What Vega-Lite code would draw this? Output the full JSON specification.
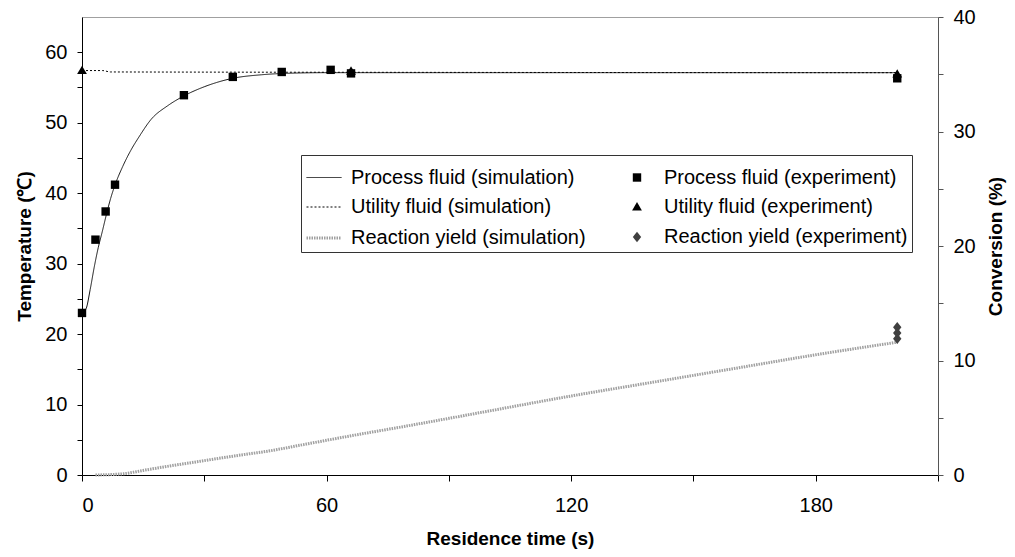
{
  "$schema": "https://vega.github.io/schema/vega-lite/v6.json",
  "width": 856,
  "height": 458,
  "autosize": "none",
  "padding": {"left": 82, "top": 17, "right": 77, "bottom": 82},
  "background": "white",
  "config": {
    "font": "Liberation Sans",
    "view": {"stroke": "#a0a0a0"},
    "axis": {
      "labelFont": "Liberation Sans",
      "labelFontSize": 20,
      "labelColor": "#000",
      "titleFont": "Liberation Sans",
      "titleFontSize": 19,
      "titleFontWeight": "bold",
      "titleColor": "#000",
      "tickColor": "#000",
      "domainColor": "#000",
      "grid": false,
      "tickSize": 5,
      "labelPadding": 10
    },
    "legend": {
      "title": null,
      "orient": "none",
      "legendX": 219,
      "legendY": 138,
      "columns": 2,
      "gridAlign": "all",
      "columnPadding": 23,
      "rowPadding": 1,
      "padding": 4,
      "strokeColor": "#333",
      "fillColor": "white",
      "labelFont": "Liberation Sans",
      "labelFontSize": 20,
      "labelColor": "#000",
      "labelLimit": 400,
      "labelOffset": 8,
      "symbolSize": 1225,
      "symbolOpacity": 1
    }
  },
  "datasets": {
    "sim_left": [
      {"t": 0, "temp": 23.0, "series": "Process fluid (simulation)"},
      {"t": 1, "temp": 23.6, "series": "Process fluid (simulation)"},
      {"t": 2, "temp": 26.3, "series": "Process fluid (simulation)"},
      {"t": 3, "temp": 29.5, "series": "Process fluid (simulation)"},
      {"t": 4, "temp": 32.3, "series": "Process fluid (simulation)"},
      {"t": 5, "temp": 34.6, "series": "Process fluid (simulation)"},
      {"t": 6, "temp": 37.0, "series": "Process fluid (simulation)"},
      {"t": 7, "temp": 39.2, "series": "Process fluid (simulation)"},
      {"t": 8, "temp": 41.0, "series": "Process fluid (simulation)"},
      {"t": 10, "temp": 43.8, "series": "Process fluid (simulation)"},
      {"t": 12, "temp": 46.1, "series": "Process fluid (simulation)"},
      {"t": 14, "temp": 48.0, "series": "Process fluid (simulation)"},
      {"t": 17, "temp": 50.5, "series": "Process fluid (simulation)"},
      {"t": 21, "temp": 52.4, "series": "Process fluid (simulation)"},
      {"t": 25, "temp": 53.8, "series": "Process fluid (simulation)"},
      {"t": 30, "temp": 55.1, "series": "Process fluid (simulation)"},
      {"t": 33, "temp": 55.7, "series": "Process fluid (simulation)"},
      {"t": 37, "temp": 56.3, "series": "Process fluid (simulation)"},
      {"t": 44, "temp": 56.8, "series": "Process fluid (simulation)"},
      {"t": 50, "temp": 57.0, "series": "Process fluid (simulation)"},
      {"t": 60, "temp": 57.1, "series": "Process fluid (simulation)"},
      {"t": 200, "temp": 57.1, "series": "Process fluid (simulation)"},
      {"t": 0, "temp": 57.4, "series": "Utility fluid (simulation)"},
      {"t": 5, "temp": 57.4, "series": "Utility fluid (simulation)"},
      {"t": 7, "temp": 57.2, "series": "Utility fluid (simulation)"},
      {"t": 200, "temp": 57.1, "series": "Utility fluid (simulation)"}
    ],
    "exp_left": [
      {"t": 0, "temp": 23.0, "series": "Process fluid (experiment)"},
      {"t": 3.3, "temp": 33.4, "series": "Process fluid (experiment)"},
      {"t": 5.8, "temp": 37.4, "series": "Process fluid (experiment)"},
      {"t": 8.1, "temp": 41.2, "series": "Process fluid (experiment)"},
      {"t": 25, "temp": 53.9, "series": "Process fluid (experiment)"},
      {"t": 37, "temp": 56.5, "series": "Process fluid (experiment)"},
      {"t": 49, "temp": 57.2, "series": "Process fluid (experiment)"},
      {"t": 61, "temp": 57.5, "series": "Process fluid (experiment)"},
      {"t": 66, "temp": 57.0, "series": "Process fluid (experiment)"},
      {"t": 200, "temp": 56.3, "series": "Process fluid (experiment)"},
      {"t": 0, "temp": 57.4, "series": "Utility fluid (experiment)"},
      {"t": 66, "temp": 57.3, "series": "Utility fluid (experiment)"},
      {"t": 200, "temp": 56.9, "series": "Utility fluid (experiment)"}
    ],
    "ry_sim": [
      {"t": 3.3, "conv": 0.0, "series": "Reaction yield (simulation)"},
      {"t": 10, "conv": 0.1, "series": "Reaction yield (simulation)"},
      {"t": 15, "conv": 0.4, "series": "Reaction yield (simulation)"},
      {"t": 20, "conv": 0.7, "series": "Reaction yield (simulation)"},
      {"t": 29, "conv": 1.2, "series": "Reaction yield (simulation)"},
      {"t": 40, "conv": 1.8, "series": "Reaction yield (simulation)"},
      {"t": 45, "conv": 2.05, "series": "Reaction yield (simulation)"},
      {"t": 55, "conv": 2.7, "series": "Reaction yield (simulation)"},
      {"t": 65.6, "conv": 3.4, "series": "Reaction yield (simulation)"},
      {"t": 80, "conv": 4.3, "series": "Reaction yield (simulation)"},
      {"t": 100, "conv": 5.6, "series": "Reaction yield (simulation)"},
      {"t": 120, "conv": 6.9, "series": "Reaction yield (simulation)"},
      {"t": 140, "conv": 8.1, "series": "Reaction yield (simulation)"},
      {"t": 160, "conv": 9.3, "series": "Reaction yield (simulation)"},
      {"t": 180, "conv": 10.5, "series": "Reaction yield (simulation)"},
      {"t": 200, "conv": 11.6, "series": "Reaction yield (simulation)"}
    ],
    "ry_exp": [
      {"t": 200, "conv": 11.9, "series": "Reaction yield (experiment)"},
      {"t": 200, "conv": 12.4, "series": "Reaction yield (experiment)"},
      {"t": 200, "conv": 12.9, "series": "Reaction yield (experiment)"}
    ]
  },
  "encoding": {
    "x": {
      "field": "t", "type": "quantitative",
      "scale": {"domain": [0, 210], "nice": false, "zero": false},
      "axis": {
        "title": "Residence time (s)",
        "values": [0, 30, 60, 90, 120, 150, 180, 210],
        "labelExpr": "(datum.value % 60 == 0 && datum.value < 200) ? datum.label : ''",
        "tickSize": 6,
        "labelPadding": 14,
        "titlePadding": 14
      }
    }
  },
  "layer": [
    {
      "encoding": {
        "y": {
          "field": "temp", "type": "quantitative",
          "scale": {"domain": [0, 65], "nice": false},
          "axis": {
            "orient": "left",
            "title": "Temperature (℃)",
            "values": [0, 5, 10, 15, 20, 25, 30, 35, 40, 45, 50, 55, 60],
            "labelExpr": "datum.value % 10 == 0 ? datum.label : ''",
            "titlePadding": 10
          }
        }
      },
      "layer": [
        {
          "data": {"name": "sim_left"},
          "mark": {"type": "line", "interpolate": "monotone", "opacity": 1},
          "encoding": {
            "stroke": {
              "field": "series", "type": "nominal",
              "scale": {
                "type": "ordinal",
                "domain": ["Process fluid (simulation)", "Utility fluid (simulation)", "Reaction yield (simulation)", "Process fluid (experiment)", "Utility fluid (experiment)", "Reaction yield (experiment)"],
                "range": ["#111", "#000", "#a0a0a0", "transparent", "transparent", "transparent"]
              }
            },
            "strokeDash": {
              "field": "series", "type": "nominal",
              "scale": {
                "type": "ordinal",
                "domain": ["Process fluid (simulation)", "Utility fluid (simulation)", "Reaction yield (simulation)", "Process fluid (experiment)", "Utility fluid (experiment)", "Reaction yield (experiment)"],
                "range": [[1, 0], [2, 2], [1.5, 1], [1, 0], [1, 0], [1, 0]]
              }
            },
            "strokeWidth": {
              "field": "series", "type": "nominal",
              "scale": {
                "type": "ordinal",
                "domain": ["Process fluid (simulation)", "Utility fluid (simulation)", "Reaction yield (simulation)", "Process fluid (experiment)", "Utility fluid (experiment)", "Reaction yield (experiment)"],
                "range": [1, 1, 3, 1, 1, 1]
              }
            }
          }
        },
        {
          "data": {"name": "exp_left"},
          "mark": {"type": "point", "filled": true, "opacity": 1, "size": 1225},
          "encoding": {
            "shape": {
              "field": "series", "type": "nominal",
              "scale": {
                "type": "ordinal",
                "domain": ["Process fluid (simulation)", "Utility fluid (simulation)", "Reaction yield (simulation)", "Process fluid (experiment)", "Utility fluid (experiment)", "Reaction yield (experiment)"],
                "range": ["stroke", "stroke", "stroke", "M-0.24,-0.24H0.24V0.24H-0.24Z", "M0,-0.28L0.28,0.2H-0.28Z", "M0,-0.3L0.24,0L0,0.3L-0.24,0Z"]
              }
            },
            "fill": {
              "field": "series", "type": "nominal",
              "scale": {
                "type": "ordinal",
                "domain": ["Process fluid (simulation)", "Utility fluid (simulation)", "Reaction yield (simulation)", "Process fluid (experiment)", "Utility fluid (experiment)", "Reaction yield (experiment)"],
                "range": ["transparent", "transparent", "transparent", "#000", "#000", "#404040"]
              }
            }
          }
        }
      ]
    },
    {
      "encoding": {
        "y": {
          "field": "conv", "type": "quantitative",
          "scale": {"domain": [0, 40], "nice": false},
          "axis": {
            "orient": "right",
            "title": "Conversion (%)",
            "titleAngle": 270,
            "values": [0, 5, 10, 15, 20, 25, 30, 35, 40],
            "labelExpr": "datum.value % 10 == 0 ? datum.label : ''",
            "domainColor": "#555",
            "tickColor": "#555",
            "titlePadding": 30
          }
        }
      },
      "layer": [
        {
          "data": {"name": "ry_sim"},
          "mark": {"type": "line", "interpolate": "monotone", "opacity": 1},
          "encoding": {
            "stroke": {
              "field": "series", "type": "nominal",
              "scale": {
                "type": "ordinal",
                "domain": ["Process fluid (simulation)", "Utility fluid (simulation)", "Reaction yield (simulation)", "Process fluid (experiment)", "Utility fluid (experiment)", "Reaction yield (experiment)"],
                "range": ["#111", "#000", "#a0a0a0", "transparent", "transparent", "transparent"]
              }
            },
            "strokeDash": {
              "field": "series", "type": "nominal",
              "scale": {
                "type": "ordinal",
                "domain": ["Process fluid (simulation)", "Utility fluid (simulation)", "Reaction yield (simulation)", "Process fluid (experiment)", "Utility fluid (experiment)", "Reaction yield (experiment)"],
                "range": [[1, 0], [2, 2], [1.5, 1], [1, 0], [1, 0], [1, 0]]
              }
            },
            "strokeWidth": {
              "field": "series", "type": "nominal",
              "scale": {
                "type": "ordinal",
                "domain": ["Process fluid (simulation)", "Utility fluid (simulation)", "Reaction yield (simulation)", "Process fluid (experiment)", "Utility fluid (experiment)", "Reaction yield (experiment)"],
                "range": [1, 1, 3, 1, 1, 1]
              }
            }
          }
        },
        {
          "data": {"name": "ry_exp"},
          "mark": {"type": "point", "filled": true, "opacity": 1, "size": 1225},
          "encoding": {
            "shape": {
              "field": "series", "type": "nominal",
              "scale": {
                "type": "ordinal",
                "domain": ["Process fluid (simulation)", "Utility fluid (simulation)", "Reaction yield (simulation)", "Process fluid (experiment)", "Utility fluid (experiment)", "Reaction yield (experiment)"],
                "range": ["stroke", "stroke", "stroke", "M-0.24,-0.24H0.24V0.24H-0.24Z", "M0,-0.28L0.28,0.2H-0.28Z", "M0,-0.3L0.24,0L0,0.3L-0.24,0Z"]
              }
            },
            "fill": {
              "field": "series", "type": "nominal",
              "scale": {
                "type": "ordinal",
                "domain": ["Process fluid (simulation)", "Utility fluid (simulation)", "Reaction yield (simulation)", "Process fluid (experiment)", "Utility fluid (experiment)", "Reaction yield (experiment)"],
                "range": ["transparent", "transparent", "transparent", "#000", "#000", "#404040"]
              }
            }
          }
        }
      ]
    }
  ],
  "resolve": {"scale": {"y": "independent"}}
}
